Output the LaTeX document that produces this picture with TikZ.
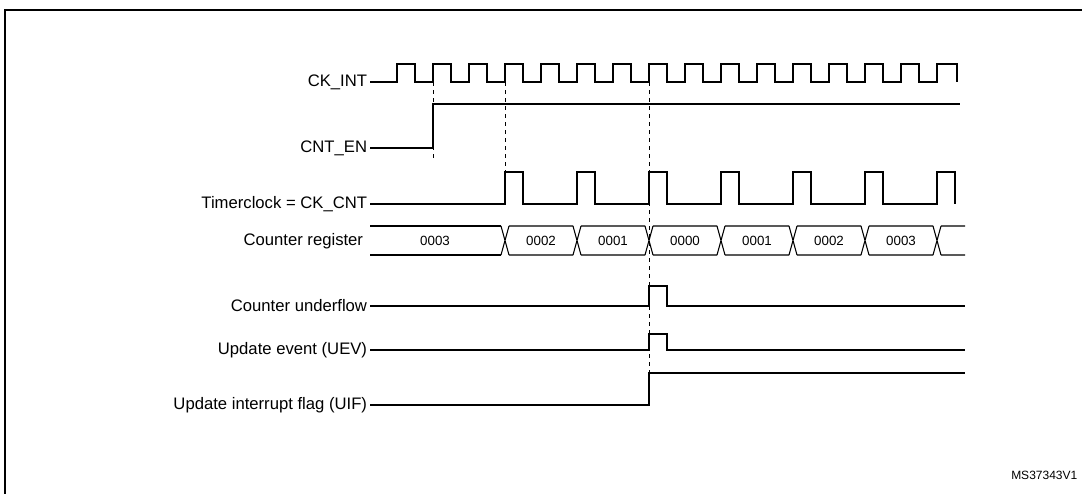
\documentclass[tikz,border=0pt]{standalone}
\usepackage{fontspec}
\setmainfont{Liberation Sans}
\usetikzlibrary{positioning}

\begin{document}
\begin{tikzpicture}[x=0.75pt,y=-0.75pt]
    \tikzset{
        sig/.style={line width=0.8pt},
        lbl/.style={anchor=east,font=\fontsize{12.5}{14}\selectfont,inner sep=2pt},
        val/.style={font=\fontsize{10}{12}\selectfont},
        guide/.style={dashed,line width=0.5pt}
    }
    \useasboundingbox (0,0) rectangle (1082,493);
    \draw[line width=1pt] (5,1100) -- (5,10) -- (1200,10);
    % labels
    \node[lbl] (ckint) at (370,82) {CK\_INT};
    \node[lbl] (cnten) at (370,148) {CNT\_EN};
    \node[lbl] (tclk) at (370,204) {Timerclock = CK\_CNT};
    \node[lbl] (creg) at (366,241) {Counter register};
    \node[lbl] (uflow) at (370,306) {Counter underflow};
    \node[lbl] (uev) at (370,350) {Update event (UEV)};
    \node[lbl] (uif) at (370,405) {Update interrupt flag (UIF)};
    % CK_INT
    \draw[sig] (ckint.east) -- (397,82)
        \foreach \i in {0,...,14} {
            -- ++(0,-18) -- ++(18,0) -- ++(0,18) -- ++(18,0)
        } -- ++(0,-18) -- ++(20,0) -- ++(0,18);
    % CNT_EN
    \draw[sig] (cnten.east) -- (433,148) -- (433,104) -- (960,104);
    % Timerclock
    \draw[sig] (tclk.east) -- (505,204)
        \foreach \i in {0,...,5} {
            -- ++(0,-32) -- ++(18,0) -- ++(0,32) -- ++(54,0)
        } -- ++(0,-32) -- ++(18,0) -- ++(0,32);
    % counter register
    \coordinate (cstart) at (370,241);
    \draw[sig] (cstart |- 0,226) -- (501,226);
    \draw[sig] (cstart |- 0,255) -- (501,255);
    \node[val] (v0) at (435,241) {0003};
    \foreach \x/\n/\v in {505/v1/0002,577/v2/0001,649/v3/0000,721/v4/0001,793/v5/0002,865/v6/0003} {
        \draw[sig] (\x-4,226) -- (\x+4,255) (\x-4,255) -- (\x+4,226)
            (\x+4,226) -- (\x+68,226) (\x+4,255) -- (\x+68,255);
        \node[val] (\n) at (\x+36,241) {\v};
    }
    \draw[sig] (933,226) -- (941,255) (933,255) -- (941,226)
        (941,226) -- (965,226) (941,255) -- (965,255);
    % underflow, UEV, UIF
    \draw[sig] (uflow.east) -- (649,306) -- (649,286) -- (667,286) -- (667,306) -- (965,306);
    \draw[sig] (uev.east) -- (649,350) -- (649,334) -- (667,334) -- (667,350) -- (965,350);
    \draw[sig] (uif.east) -- (649,405) -- (649,373) -- (965,373);
    % guides
    \draw[guide] (433,82) -- (433,158);
    \draw[guide] (505,82) -- (505,172);
    \draw[guide] (649,82) -- (649,373);
    \node[font=\fontsize{9}{11}\selectfont,anchor=east] (ref) at (1082,475) {MS37343V1};
\end{tikzpicture}
\end{document}
